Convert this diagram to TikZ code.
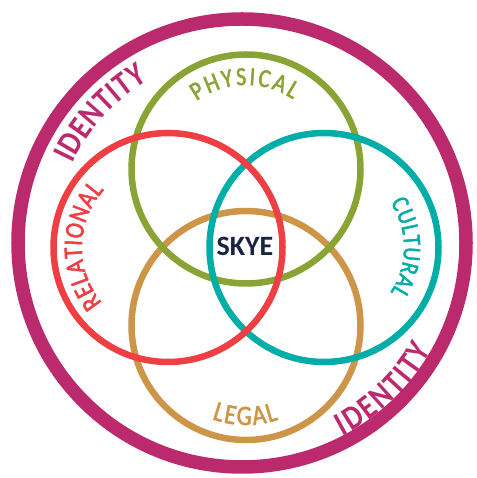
\documentclass[tikz,border=0pt]{standalone}
\usepackage{fontspec}
\setmainfont{Carlito}
\newfontfamily\labelfont[FakeStretch=0.85, FakeBold=2]{Carlito}
\newfontfamily\identityfont[FakeStretch=0.85]{Carlito Bold}
\usetikzlibrary{decorations.text}
\definecolor{identityc}{RGB}{188,42,110}
\definecolor{physicalc}{RGB}{137,163,52}
\definecolor{relationalc}{RGB}{238,64,68}
\definecolor{culturalc}{RGB}{0,173,167}
\definecolor{legalc}{RGB}{205,149,72}
\definecolor{skyec}{RGB}{24,36,64}
\begin{document}
\begin{tikzpicture}[x=1pt,y=1pt]
\useasboundingbox (0,0) rectangle (476,478);
\node[shape=circle, draw=identityc, line width=13.5pt, minimum size=448pt] (identity) at (242,235) {};
\node[shape=circle, draw=legalc, line width=6.5pt, minimum size=229pt] (legal) at (246,152.5) {};
\node[shape=circle, draw=physicalc, line width=6.5pt, minimum size=229pt] (physical) at (246,309) {};
\node[shape=circle, draw=culturalc, line width=6.5pt, minimum size=229pt] (cultural) at (324,230.5) {};
\node[shape=circle, draw=relationalc, line width=6.5pt, minimum size=229pt] (relational) at (168,230.5) {};
\node[text=skyec, font=\fontsize{28}{28}\selectfont\bfseries] (skye) at (245,231.5) {SKYE};
\path[decorate, decoration={text along path, text color=physicalc, text align={fit to path}, text={|\labelfont\fontsize{26}{26}\selectfont|PHYSICAL}}] (physical.center) ++(126:84) arc[start angle=126, end angle=56, radius=84];
\path[decorate, decoration={text along path, text color=relationalc, text align={fit to path}, text={|\labelfont\fontsize{27}{27}\selectfont|RELATIONAL}}] (relational.center) ++(220:86) arc[start angle=220, end angle=138, radius=86];
\path[decorate, decoration={text along path, text color=culturalc, text align={fit to path}, text={|\labelfont\fontsize{25}{25}\selectfont|CULTURAL}}] (cultural.center) ++(34:80) arc[start angle=34, end angle=-34, radius=80];
\path[decorate, decoration={text along path, text color=legalc, text align={fit to path}, text={|\labelfont\fontsize{28}{28}\selectfont|LEGAL}}] (legal.center) ++(-110:99.5) arc[start angle=-110, end angle=-71, radius=99.5];
\path[decorate, decoration={text along path, text color=identityc, text align={fit to path}, text={|\identityfont\fontsize{34}{34}\selectfont|IDENTITY}}] (identity.center) ++(155:187) arc[start angle=155, end angle=120, radius=187];
\path[decorate, decoration={text along path, text color=identityc, text align={fit to path}, text={|\identityfont\fontsize{34}{34}\selectfont|IDENTITY}}] (identity.center) ++(-62.5:218) arc[start angle=-62.5, end angle=-29.5, radius=218];
\end{tikzpicture}
\end{document}
